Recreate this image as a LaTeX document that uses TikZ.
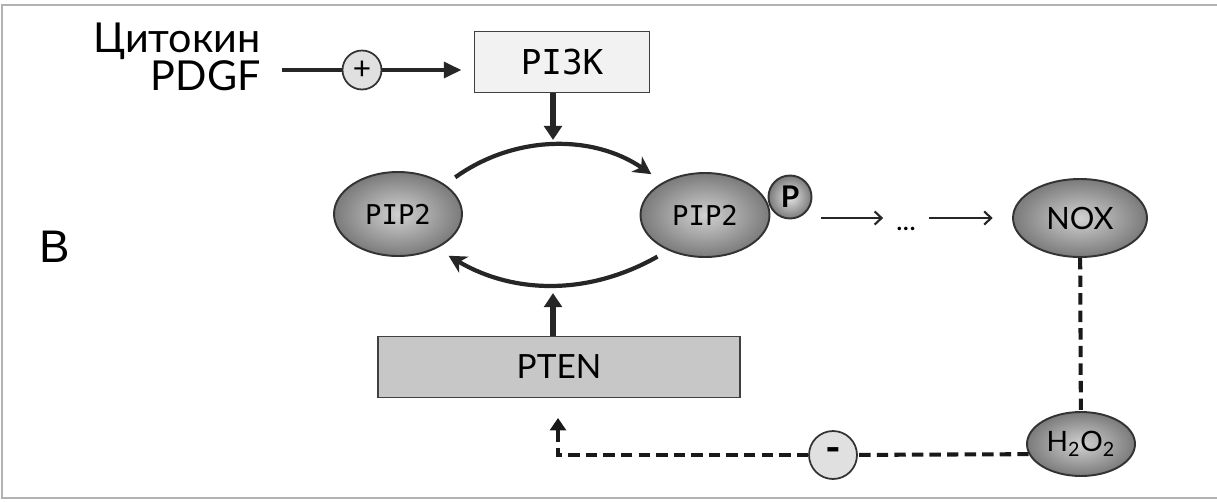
\documentclass[tikz,border=0pt]{standalone}
\usepackage{fontspec}
\setmainfont{Lato}
\newfontfamily\monofont{DejaVu Sans Mono}
\newfontfamily\arialfont{Liberation Sans}
\usetikzlibrary{arrows.meta,shapes.geometric,calc}

\begin{document}
\begin{tikzpicture}[x=0.02cm, y=0.02cm,
    pipnode/.style={ellipse, draw=black!80, line width=1.1pt, inner color=black!18, outer color=black!52, inner sep=0pt},
    signcirc/.style={circle, draw=black!80, line width=1pt, fill=black!12, inner sep=0pt},
    enzbox/.style={rectangle, draw=black!75, line width=0.9pt, inner sep=0pt, minimum height=1.22cm},
    thickarrow/.style={draw=black!85, line width=3pt, -{Triangle[length=8pt,width=10pt]}},
    arcarrow/.style={draw=black!85, line width=2.4pt, -{Stealth[length=10pt,width=10.5pt,inset=3pt]}},
    thinarrow/.style={draw=black!85, line width=1.2pt, -{Straight Barb[length=4pt,width=7.5pt]}},
    dashline/.style={draw=black!90, line width=2.3pt, dash pattern=on 6.5pt off 3.5pt}
]
    \useasboundingbox (0,0) rectangle (1217,-501);
    % frame
    \draw[gray!60, line width=1pt] (1217,-5) -- (2,-5) -- (2,-498) -- (1217,-498);

    % panel letter
    \node[font=\arialfont\fontsize{26}{26}\selectfont, inner sep=0pt] (panel) at (55,-247) {B};

    % input and PI3K
    \node[font=\fontsize{23.5}{22}\selectfont, align=right, inner sep=0pt, anchor=east] (cyt) at (261,-57) {Цитокин\\PDGF};
    \node[signcirc, minimum size=0.78cm, font=\fontsize{18}{18}\selectfont] (plus) at (362,-70) {+};
    \node[enzbox, fill=black!5, minimum width=3.5cm, font=\monofont\fontsize{19.5}{19.5}\selectfont] (pi3k) at (562,-62) {PI3K};

    \draw[black!85, line width=2.1pt, shorten <=12pt] (cyt.east |- plus) -- (plus);
    \draw[black!85, line width=2.1pt, -{Triangle[length=10pt,width=9pt]}, shorten >=7pt] (plus) -- (plus -| pi3k.west);

    % PIP2 cycle
    \node[pipnode, minimum width=2.56cm, minimum height=1.68cm, font=\monofont\fontsize{15.5}{15.5}\selectfont] (pipL) at (398,-214) {PIP2};
    \node[pipnode, minimum width=2.58cm, minimum height=1.68cm, font=\monofont\fontsize{15.5}{15.5}\selectfont] (pipR) at (705,-215) {PIP2};
    \node[pipnode, circle, minimum size=0.86cm, inner color=black!10, font=\bfseries\fontsize{17}{17}\selectfont] (phos) at (790,-197) {P};

    \coordinate (topmid) at (553,-140);
    \coordinate (botmid) at (553,-293);
    \draw[thickarrow] (pi3k.south -| topmid) -- (topmid);

    \draw[arcarrow, shorten <=7pt, shorten >=8pt] (pipL.32) to[bend left=35] (pipR.142);
    \draw[arcarrow, shorten <=7pt, shorten >=8pt] (pipR.224) to[bend left=30] (pipL.318);

    % PTEN
    \node[enzbox, fill=black!22, minimum width=7.24cm, font=\fontsize{19}{19}\selectfont] (pten) at (559,-367) {PTEN};
    \draw[thickarrow] (pten.north -| botmid) -- (botmid);

    % NOX branch
    \node[pipnode, minimum width=2.68cm, minimum height=1.56cm, font=\fontsize{17.5}{17.5}\selectfont] (nox) at (1080,-218) {NOX};
    \node[inner sep=0pt, minimum width=0.9cm, font=\fontsize{16}{16}\selectfont] (dots) at (906,-229) {...};
    \draw[thinarrow, shorten <=5pt] (phos.east |- nox) -- (dots.west |- nox);
    \draw[thinarrow, shorten >=11pt] (dots.east |- nox) -- (nox);

    \node[pipnode, minimum width=2.16cm, minimum height=1.28cm, font=\fontsize{16}{16}\selectfont] (h2o2) at (1081,-444) {H\textsubscript{2}O\textsubscript{2}};
    \draw[dashline] (nox) -- (h2o2);

    % negative feedback
    \node[signcirc, minimum size=0.96cm, font=\bfseries\fontsize{24}{24}\selectfont] (minus) at (833,-455) {-};
    \coordinate (fbend) at (558,-418);
    \draw[dashline] (h2o2.191) -- (minus);
    \draw[dashline, -{Triangle[length=7pt,width=9pt]}] (minus) -| (fbend);
\end{tikzpicture}
\end{document}
